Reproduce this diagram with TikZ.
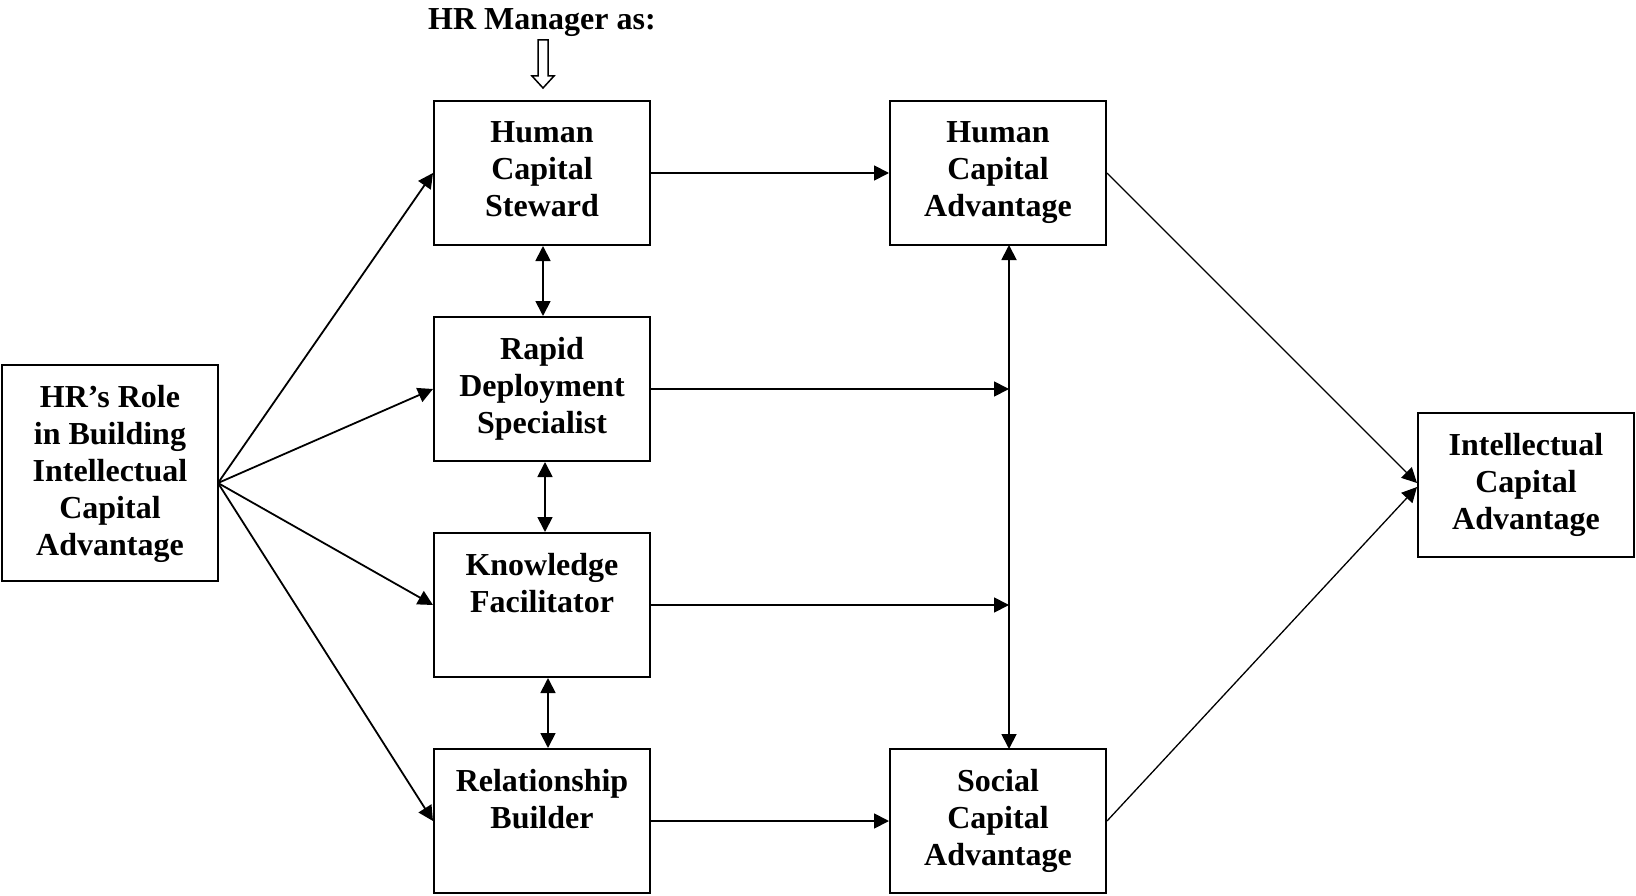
\documentclass[tikz,border=0pt]{standalone}
\usepackage{fontspec}
\setmainfont{Liberation Serif}
\usetikzlibrary{arrows.meta}
\begin{document}
\begin{tikzpicture}[x=1pt,y=-1pt,
  box/.style={draw,line width=2pt,minimum width=216pt,minimum height=144pt,inner sep=0pt},
  bigbox/.style={box,minimum height=216pt},
  txt/.style={anchor=north,align=center,inner sep=0pt,font=\bfseries\fontsize{32}{37}\selectfont},
  arr/.style={line width=1.8pt,-{Triangle[length=15pt,width=15pt]}},
  darr/.style={line width=1.8pt,{Triangle[length=15pt,width=15pt]}-{Triangle[length=15pt,width=15pt]}},
  thin/.style={line width=1.3pt,-{Triangle[length=15pt,width=15pt]}}]
\useasboundingbox (0,0) rectangle (1636,896);
% boxes
\node[bigbox] (hr) at (110,473) {};
\node[box] (hcs) at (542,173) {};
\node[box] (rds) at (542,389) {};
\node[box] (kf) at (542,605) {};
\node[box] (rb) at (542,821) {};
\node[box] (hca) at (998,173) {};
\node[box] (sca) at (998,821) {};
\node[box] (ica) at (1526,485) {};
% texts
\node[txt] (hrt) at ([yshift=-21pt]hr.north) {HR’s Role\\in Building\\Intellectual\\Capital\\Advantage};
\node[txt] (hcst) at ([yshift=-21pt]hcs.north) {Human\\Capital\\Steward};
\node[txt] (rdst) at ([yshift=-21pt]rds.north) {Rapid\\Deployment\\Specialist};
\node[txt] (kft) at ([yshift=-21pt]kf.north) {Knowledge\\Facilitator};
\node[txt] (rbt) at ([yshift=-21pt]rb.north) {Relationship\\Builder};
\node[txt] (hcat) at ([yshift=-21pt]hca.north) {Human\\Capital\\Advantage};
\node[txt] (scat) at ([yshift=-21pt]sca.north) {Social\\Capital\\Advantage};
\node[txt] (icat) at ([yshift=-21pt]ica.north) {Intellectual\\Capital\\Advantage};
\node[txt,anchor=base] (mgr) at (542,30) {HR Manager as:};
% hollow arrow
\draw[line width=1.5pt,fill=white] (538,40) -- (548,40) -- (548,76) -- (554,76) -- (543,88) -- (532,76) -- (538,76) -- cycle;
% coordinates
\coordinate (hro) at (218,483);
\coordinate (v1) at (1009,389);
\coordinate (v2) at (1009,605);
\coordinate (vt) at (1009,245);
\coordinate (vb) at (1009,749);
% left fan
\draw[arr] (hro) -- (hcs.west);
\draw[arr] (hro) -- (rds.west);
\draw[arr] (hro) -- (kf.west);
\draw[arr] (hro) -- (rb.west);
% vertical double arrows
\draw[darr] ([xshift=1pt]hcs.south) -- ([xshift=1pt]rds.north);
\draw[darr] ([xshift=3pt]rds.south) -- ([xshift=3pt]kf.north);
\draw[darr] ([xshift=6pt]kf.south) -- ([xshift=6pt]rb.north);
% horizontal
\draw[arr] (hcs.east) -- (hca.west);
\draw[arr] (rds.east) -- (v1);
\draw[arr] (kf.east) -- (v2);
\draw[arr] (rb.east) -- (sca.west);
\draw[darr] (vt) -- (vb);
% right diagonals
\draw[thin] (hca.east) -- ([yshift=2pt]ica.west);
\draw[thin] (sca.east) -- ([yshift=-2pt]ica.west);
\end{tikzpicture}
\end{document}
